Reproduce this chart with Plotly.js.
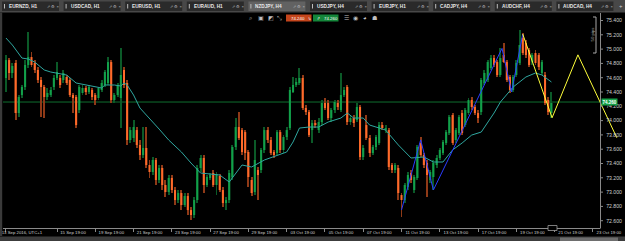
<!DOCTYPE html>
<html><head><meta charset="utf-8">
<script src="https://cdn.plot.ly/plotly-3.0.1.min.js"></script>
<style>html,body{margin:0;padding:0;background:#000;overflow:hidden;}#chart{width:625px;height:241px;}</style>
</head><body><div id="chart"></div>
<script>
// ---- NZDJPY H4 candles (bar index 0 = 13 Sep 2016) ----
const opens = [
74.596,74.847,74.666,74.806,74.106,74.358,74.470,74.778,74.889,74.806,
74.708,74.568,74.470,74.330,74.358,74.470,74.596,74.596,74.568,74.610,
74.568,74.358,74.330,74.148,74.386,74.456,74.400,74.428,74.358,74.316,
74.428,74.498,74.526,74.819,74.288,74.358,74.316,74.708,74.526,73.729,
73.757,73.868,73.659,73.519,73.617,73.379,73.281,73.449,73.169,73.337,
73.099,73.001,73.197,73.029,72.889,72.987,72.819,72.945,72.749,72.680,
72.889,73.337,73.477,73.099,73.197,73.267,73.099,73.225,73.029,72.847,
72.889,73.211,73.631,73.910,73.868,73.840,73.561,73.169,73.001,73.309,
73.309,73.589,73.868,73.729,73.561,73.547,73.840,73.589,73.771,73.896,
74.400,74.498,74.526,74.596,74.176,74.120,73.868,73.966,73.868,73.980,
74.246,74.246,74.036,74.148,74.246,74.148,74.358,74.470,73.980,74.036,
74.008,74.190,73.491,73.938,73.757,73.547,73.631,73.687,73.938,73.868,
73.868,73.379,73.309,73.337,72.959,72.889,73.071,73.267,73.029,73.197,
73.687,73.519,73.407,73.169,73.211,73.379,73.477,73.547,73.687,73.826,
74.078,73.729,73.826,74.106,73.938,74.106,74.288,74.190,74.106,74.120,
74.526,74.568,74.736,74.875,74.819,74.638,74.917,74.819,74.610,74.428,
74.638,74.806,75.155,75.085,74.987,74.819,74.945,74.917,74.666,74.638,
74.288,74.106];
const highs = [
74.917,74.875,74.806,74.847,74.358,74.498,74.847,75.239,74.959,74.847,
74.750,74.610,74.498,74.456,74.470,74.638,74.819,74.638,74.708,74.638,
74.596,74.386,74.358,74.498,74.498,74.484,74.498,74.456,74.386,74.470,
74.568,74.708,74.889,74.847,74.386,74.526,75.015,74.750,74.568,73.910,
74.008,73.910,73.729,73.910,73.910,73.449,73.491,73.477,73.379,73.379,
73.169,73.239,73.239,73.071,73.029,73.029,72.987,72.987,72.791,72.931,
73.379,73.519,73.519,73.239,73.267,73.309,73.281,73.253,73.071,72.931,
73.309,73.659,74.036,74.120,73.896,73.868,73.589,73.211,73.729,73.351,
73.617,73.910,73.910,73.771,73.589,73.868,73.868,73.798,73.910,74.470,
74.610,74.596,74.736,74.638,74.218,74.148,74.008,74.008,74.036,74.288,
74.316,74.288,74.176,74.288,74.288,74.666,74.470,74.498,74.078,74.078,
74.246,74.218,73.659,74.078,73.798,73.659,73.798,73.980,73.980,73.938,
73.896,73.407,73.407,73.379,72.987,73.127,73.281,73.309,73.239,73.659,
73.771,73.547,73.449,73.309,73.449,73.519,73.617,73.729,73.868,74.078,
74.106,73.896,74.078,74.148,74.176,74.316,74.330,74.218,74.148,74.596,
74.708,74.847,74.917,74.917,74.847,75.015,75.085,74.847,74.638,74.638,
74.847,75.267,75.225,75.127,75.015,74.945,74.987,74.945,74.847,74.680,
74.330,74.400];
const lows = [
74.400,74.568,74.596,74.008,74.050,74.316,74.428,74.736,74.750,74.666,
74.526,74.050,74.036,74.288,74.330,74.428,74.568,74.456,74.526,74.498,
74.330,74.106,73.896,74.106,74.358,74.358,74.372,74.288,74.218,74.288,
74.400,74.470,74.498,74.246,74.246,74.330,73.896,74.456,73.659,73.687,
73.701,73.617,73.449,73.477,73.337,73.197,73.239,73.099,73.127,73.029,
72.931,72.959,72.987,72.819,72.847,72.749,72.791,72.680,72.610,72.638,
72.847,73.281,72.987,73.071,73.169,73.071,72.959,73.001,72.791,72.749,
72.847,73.169,73.589,73.729,73.519,73.449,73.071,72.945,72.959,72.889,
73.267,73.547,73.687,73.519,73.477,73.519,73.547,73.547,73.729,73.868,
74.386,74.470,74.498,74.148,74.078,73.771,73.687,73.896,73.826,73.938,
74.148,74.008,73.980,74.106,74.148,74.120,74.330,73.938,73.938,73.910,
73.980,73.449,73.449,73.729,73.491,73.519,73.589,73.659,73.868,73.826,
73.309,73.267,73.267,72.889,72.652,72.847,73.029,73.127,72.987,73.169,
73.491,73.337,72.931,73.127,73.029,73.337,73.449,73.519,73.659,73.798,
73.659,73.687,73.798,73.798,73.910,74.078,74.148,74.078,73.966,74.078,
74.498,74.540,74.708,74.750,74.610,74.610,74.806,74.540,74.386,74.400,
74.610,74.778,74.917,74.875,74.750,74.778,74.778,74.708,74.638,74.218,
74.078,74.036];
const closes = [
74.847,74.666,74.764,74.106,74.330,74.470,74.778,74.889,74.778,74.708,
74.568,74.470,74.330,74.386,74.428,74.596,74.680,74.498,74.666,74.526,
74.358,74.316,73.938,74.470,74.456,74.400,74.470,74.330,74.288,74.456,
74.526,74.680,74.819,74.288,74.358,74.498,74.638,74.498,73.729,73.868,
73.910,73.659,73.519,73.617,73.379,73.281,73.449,73.169,73.337,73.099,
73.001,73.197,73.029,72.889,72.987,72.819,72.945,72.749,72.680,72.889,
73.337,73.477,73.099,73.211,73.239,73.099,73.253,73.029,72.847,72.889,
73.267,73.631,73.910,73.757,73.561,73.547,73.211,72.987,73.449,73.239,
73.589,73.868,73.729,73.547,73.519,73.840,73.589,73.771,73.868,74.428,
74.498,74.540,74.596,74.176,74.120,73.798,73.966,73.938,73.980,74.246,
74.176,74.036,74.148,74.260,74.190,74.358,74.428,73.980,74.036,73.966,
74.190,73.491,73.617,73.757,73.547,73.631,73.771,73.938,73.896,73.896,
73.351,73.309,73.379,72.987,72.889,73.099,73.239,73.169,73.211,73.631,
73.519,73.379,73.239,73.281,73.407,73.477,73.589,73.701,73.840,74.050,
73.687,73.868,74.050,73.826,74.148,74.288,74.190,74.106,74.036,74.568,
74.666,74.819,74.875,74.778,74.638,74.875,74.819,74.568,74.428,74.610,
74.806,75.057,74.945,74.917,74.778,74.917,74.806,74.750,74.819,74.246,
74.120,74.246];

// moving average readings (bar index, price)
const maX = [0,2,5,7,9,12,14,16,19,22,25,29,30,31,34,36,37,38,40,42,45,48,51,55,58,61,67,70,74,77,81,85,88,90,92,95,98,101,105,107,109,112,114,117,119,123,127,131,134,137,140,143,146,149,153,155,159,163,166,168,171];
const maY = [75.155,75.057,74.875,74.861,74.819,74.708,74.680,74.666,74.638,74.526,74.498,74.470,74.456,74.498,74.498,74.484,74.526,74.498,74.358,74.176,74.036,73.882,73.729,73.561,73.407,73.267,73.239,73.141,73.379,73.351,73.449,73.519,73.561,73.701,73.896,73.910,73.910,73.980,74.036,74.106,74.036,74.036,73.938,73.896,73.868,73.659,73.477,73.491,73.421,73.421,73.589,73.687,73.798,73.840,74.106,74.260,74.470,74.610,74.666,74.638,74.540];

// zigzag lines
const blueX = [124, 130, 134, 155.5, 158.5, 162];
const blueY = [72.75, 73.73, 73.03, 75.01, 74.40, 75.21];
const yellowX = [162, 171.2, 179.3, 191.5];
const yellowY = [75.21, 74.04, 74.92, 73.76];

// axes
const xTickIdx = [0, 16, 28, 40, 52, 64, 76, 88, 100, 112, 124, 136, 148, 160, 172, 184];
const xTickText = ["13 Sep 2016, UTC+1","15 Sep 19:00","19 Sep 19:00","21 Sep 19:00","23 Sep 19:00","27 Sep 19:00","29 Sep 19:00","03 Oct 19:00","05 Oct 19:00","07 Oct 19:00","11 Oct 19:00","13 Oct 19:00","17 Oct 19:00","19 Oct 19:00","21 Oct 19:00","23 Oct 19:00"];
const yTickVals = [75.4,75.2,75.0,74.8,74.6,74.4,74.2,74.0,73.8,73.6,73.4,73.2,73.0,72.8,72.6];
const yTickText = ["75.400","75.200","75.000","74.800","74.600","74.400","74.200","74.000","73.800","73.600","73.400","73.200","73.000","72.800","72.600"];

const tabNames = ["EURNZD, H1","USDCAD, H1","EURUSD, H1","EURAUD, H1","NZDJPY, H4","USDJPY, H4","EURJPY, H1","CADJPY, H4","AUDCHF, H4","AUDCAD, H4"];
const activeTab = 4;
const sellPrice = "74.240", buyPrice = "74.260";
const bidLine = 74.26;

// ---- geometry helpers (layout only) ----
const W = 625, H = 241, ML = 3, MR = 0, MT = 13, MB = 13;
const pw = W - ML - MR, ph = H - MT - MB;
const px = x => (x - ML) / pw;
const py = y => (H - MB - y) / ph;
const FONT = '"Liberation Sans", Arial, sans-serif';

const up = {x:[], b:[], h:[], wb:[], wh:[]}, dn = {x:[], b:[], h:[], wb:[], wh:[]};
opens.forEach((o, i) => {
  const c = closes[i];
  const t = c >= o ? up : dn;
  const lo = Math.min(o, c), hi = Math.max(o, c);
  t.x.push(i); t.b.push(lo); t.h.push(Math.max(hi - lo, 0.012));
  t.wb.push(lows[i]); t.wh.push(highs[i] - lows[i]);
});

const barTrace = (x, base, y, width, color) => ({type:'bar', x, base, y, width,
  marker:{color, line:{width:0}}, hoverinfo:'skip'});

const traces = [
  barTrace(up.x, up.wb, up.wh, 0.3, '#0b5a28'),
  barTrace(dn.x, dn.wb, dn.wh, 0.3, '#8f3a17'),
  barTrace(up.x, up.b, up.h, 0.64, '#12a04a'),
  barTrace(dn.x, dn.b, dn.h, 0.64, '#ff6a2a'),
  {type:'scatter', mode:'lines', x:maX, y:maY, line:{color:'#2fa7a0', width:1}, hoverinfo:'skip'},
  {type:'scatter', mode:'lines', x:blueX, y:blueY, line:{color:'#2a3cff', width:1}, hoverinfo:'skip'},
  {type:'scatter', mode:'lines', x:yellowX, y:yellowY, line:{color:'#ffff3a', width:1}, hoverinfo:'skip'}
];

const shapes = [];
const annotations = [];
const rect = (x0, y0, x1, y1, fill, extra) => Object.assign({type:'rect', xref:'paper', yref:'paper',
  x0:px(x0), x1:px(x1), y0:py(y1), y1:py(y0), fillcolor:fill, line:{width:0}}, extra || {});
const line = (x0, y0, x1, y1, color, w) => ({type:'line', xref:'paper', yref:'paper',
  x0:px(x0), x1:px(x1), y0:py(y0), y1:py(y1), line:{color, width:w || 1}});
const txt = (x, y, text, size, color, extra) => Object.assign({xref:'paper', yref:'paper', x:px(x), y:py(y),
  text, showarrow:false, xanchor:'left', yanchor:'middle', font:{family:FONT, size, color}}, extra || {});

// top tab bar
shapes.push(rect(0, 0, 625, 12.5, '#484848'));
tabNames.forEach((name, i) => {
  const s = 2 + 61.6 * i;
  shapes.push(rect(s, 1.5, s + 57, 11, i === activeTab ? '#626262' : '#2a2a2a'));
  shapes.push(line(s + 2.5, 4, s + 2.5, 8.5, '#bdbdbd', 1));
  annotations.push(txt(s + 5, 6.4, '<b>' + name + '</b>', 4.7, '#e8e8e8'));
  annotations.push(txt(s + 43, 6.4, '⇗ ⚙ ×', 4.3, '#bdbdbd'));
});
annotations.push(txt(617, 6.2, '+', 6, '#cfcfcf'));

// toolbar
['⌕','▣','◩','⤡'].forEach((g, i) => annotations.push(txt(247 + 9.3 * i, 18, g, 6, '#bfbfbf')));
['☰','◉','◕','☗'].forEach((g, i) => annotations.push(txt(342 + 9.3 * i, 18, g, 6, '#bfbfbf')));
shapes.push(rect(286, 14.5, 311.5, 21.5, '#c4451c'));
shapes.push(rect(313, 14.5, 338.5, 21.5, '#14863a'));
annotations.push(txt(289, 18, sellPrice, 4.4, '#ffffff'));
annotations.push(txt(306, 18, '↳', 4.4, '#ffffff'));
annotations.push(txt(315, 18, '↱', 4.4, '#ffffff'));
annotations.push(txt(322, 18, buyPrice, 4.4, '#ffffff'));

// frame / axes
shapes.push(rect(0, 12.5, 2.2, 236, '#3a3a3a'));
shapes.push(line(600.5, 13, 600.5, 228, '#8a8a8a', 1));
shapes.push(line(3, 228.5, 600.5, 228.5, '#8a8a8a', 1));
yTickVals.forEach(v => shapes.push({type:'line', xref:'paper', yref:'y', x0:px(600.5), x1:px(603), y0:v, y1:v, line:{color:'#8a8a8a', width:1}}));
shapes.push(rect(0, 236.5, 625, 241, '#3c3c3c'));
shapes.push(rect(560, 237.5, 618, 241, '#6e6e6e'));
shapes.push(Object.assign(rect(548, 225.5, 557, 230.5, '#000'), {line:{color:'#9a9a9a', width:0.8}}));

// bid line + price label
shapes.push({type:'line', xref:'paper', yref:'y', x0:px(3), x1:px(600.5), y0:bidLine, y1:bidLine, line:{color:'#0f6e2f', width:1}, layer:'below'});
annotations.push({xref:'paper', yref:'y', x:px(601), y:bidLine, text:'<b>' + buyPrice + '</b>', showarrow:false,
  xanchor:'left', yanchor:'middle', bgcolor:'#17a34a', borderpad:0.6, font:{family:FONT, size:4.5, color:'#ffffff'}});

// 50 pips scale bracket
shapes.push(line(596, 17, 596, 53, '#a8a8a8', 1));
shapes.push(line(593, 17, 596, 17, '#a8a8a8', 1));
shapes.push(line(593, 53, 596, 53, '#a8a8a8', 1));
annotations.push(txt(591.5, 35, '50 pips', 4.3, '#a8a8a8', {xanchor:'center', textangle:-90}));

const layout = {
  width: W, height: H,
  margin: {l: ML, r: MR, t: MT, b: MB, pad: 0},
  paper_bgcolor: '#000', plot_bgcolor: '#000',
  showlegend: false, barmode: 'overlay', hovermode: false,
  xaxis: {range: [-0.93, 194.06], tickvals: xTickIdx, ticktext: xTickText, ticks: 'outside', ticklen: 3,
    tickcolor: '#8a8a8a', tickwidth: 1, ticklabelshift: 16, ticklabelstandoff: -3,
    tickfont: {family: FONT, size: 4.3, color: '#cfcfcf'},
    showgrid: false, zeroline: false, showline: false, fixedrange: true},
  yaxis: {range: [72.498, 75.505], side: 'right', tickvals: yTickVals, ticktext: yTickText,
    ticklabelposition: 'inside', ticks: '', tickfont: {family: FONT, size: 5.2, color: '#cfcfcf'},
    showgrid: false, zeroline: false, showline: false, fixedrange: true},
  shapes, annotations
};

Plotly.newPlot('chart', traces, layout, {displayModeBar: false, responsive: false});
</script>
</body></html>
